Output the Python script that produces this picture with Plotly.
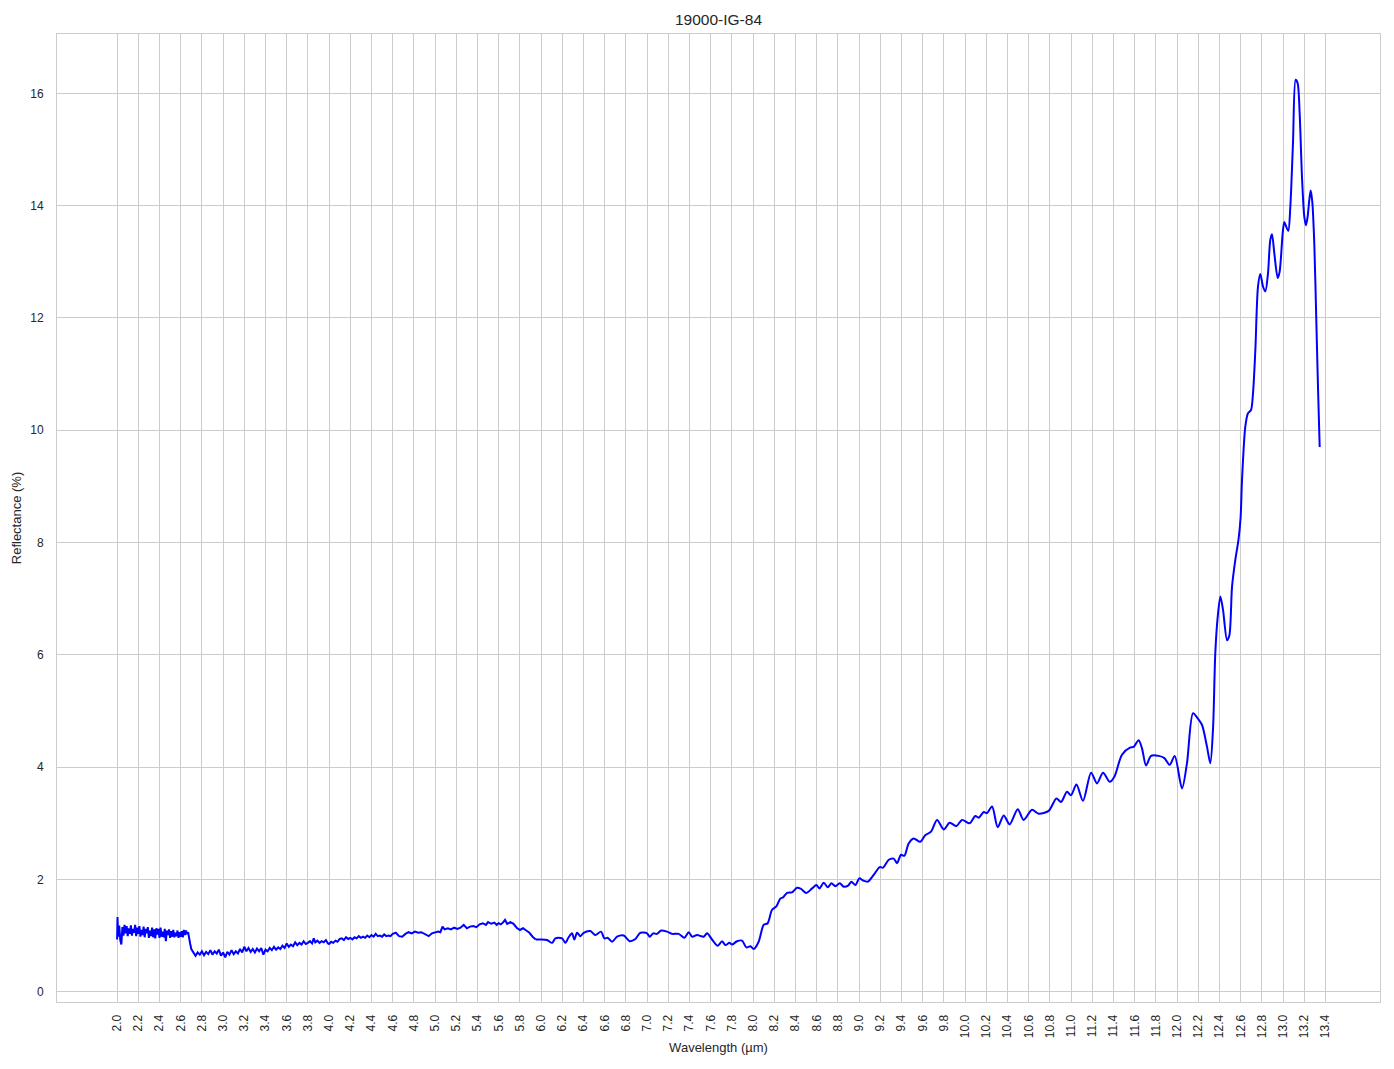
import plotly.graph_objects as go

TITLE = "19000-IG-84"
X_LABEL = "Wavelength (µm)"
Y_LABEL = "Reflectance (%)"

# Noisy part of the spectrum, wavelength in µm
WL_NOISY = [
    2.000, 2.004, 2.010, 2.020, 2.030, 2.040, 2.050, 2.060, 2.070, 2.080, 2.090,
    2.100, 2.110, 2.120, 2.130, 2.140, 2.150, 2.160, 2.170, 2.180, 2.190,
    2.200, 2.210, 2.220, 2.230, 2.240, 2.250, 2.260, 2.270, 2.280, 2.290,
    2.300, 2.310, 2.320, 2.330, 2.340, 2.350, 2.360, 2.370, 2.380, 2.390,
    2.400, 2.410, 2.420, 2.430, 2.440, 2.450, 2.460, 2.470, 2.480, 2.490,
    2.500, 2.510, 2.520, 2.530, 2.540, 2.550, 2.560, 2.570, 2.580, 2.590,
    2.600, 2.610, 2.620, 2.630, 2.640, 2.650, 2.660, 2.670,
    2.680, 2.690, 2.700, 2.720, 2.740, 2.760, 2.780, 2.800, 2.820, 2.840,
    2.860, 2.880, 2.900, 2.920, 2.940, 2.960, 2.980, 3.000, 3.020, 3.040,
    3.060, 3.080, 3.100, 3.120, 3.140, 3.160, 3.180, 3.200, 3.220, 3.240,
    3.260, 3.280, 3.300, 3.320, 3.340, 3.360, 3.380, 3.400, 3.420, 3.440,
    3.460, 3.480, 3.500, 3.520, 3.540, 3.560, 3.580, 3.600, 3.620, 3.640,
    3.660, 3.680, 3.700, 3.720, 3.740, 3.760, 3.780,
    3.800, 3.820, 3.840, 3.855, 3.870, 3.890, 3.910, 3.930, 3.950, 3.970,
    3.990, 4.000, 4.020, 4.040, 4.060, 4.080, 4.100, 4.120, 4.140, 4.160,
    4.180, 4.200, 4.220, 4.240, 4.260, 4.280, 4.300, 4.320, 4.340, 4.360,
    4.380, 4.400, 4.420, 4.440, 4.460, 4.480, 4.500, 4.520, 4.540, 4.560,
    4.580, 4.600, 4.630, 4.660, 4.690, 4.720, 4.750, 4.780, 4.810, 4.840,
    4.870, 4.900, 4.940, 4.970, 5.000, 5.030, 5.050, 5.070, 5.090, 5.120,
    5.150, 5.180, 5.210, 5.240, 5.270, 5.300, 5.330, 5.360, 5.390, 5.420,
    5.450, 5.480, 5.500, 5.530, 5.560, 5.580, 5.600, 5.620, 5.640, 5.660,
    5.680, 5.710, 5.740, 5.770, 5.800, 5.830, 5.860, 5.890, 5.920, 5.950,
]
REFL_NOISY = [
    0.93, 1.33, 0.98, 1.18, 0.92, 0.84, 1.15, 1.00, 1.19, 1.04, 1.17,
    0.99, 1.13, 1.03, 1.18, 1.00, 1.12, 1.05, 1.19, 0.99, 1.14,
    1.03, 1.17, 0.98, 1.10, 1.01, 1.16, 0.97, 1.12, 1.04, 1.15,
    0.96, 1.09, 0.99, 1.14, 0.97, 1.11, 0.95, 1.13, 1.02, 1.12,
    0.96, 1.14, 0.98, 1.07, 0.97, 1.12, 0.90, 1.09, 1.01, 1.11,
    0.96, 1.08, 0.98, 1.10, 0.97, 1.05, 0.99, 1.09, 0.96, 1.06,
    0.98, 1.08, 0.97, 1.10, 1.01, 1.09, 1.03, 1.06,
    0.98, 0.85, 0.76, 0.70, 0.64, 0.70, 0.66, 0.72, 0.65, 0.71,
    0.67, 0.74, 0.66, 0.72, 0.68, 0.75, 0.64, 0.70, 0.61, 0.71,
    0.66, 0.74, 0.67, 0.72, 0.68, 0.76, 0.70, 0.80, 0.72, 0.78,
    0.71, 0.76, 0.70, 0.77, 0.72, 0.78, 0.66, 0.75, 0.72, 0.78,
    0.74, 0.80, 0.75, 0.79, 0.76, 0.82, 0.78, 0.86, 0.80, 0.84,
    0.81, 0.88, 0.83, 0.87, 0.84, 0.90, 0.85,
    0.87, 0.90, 0.86, 0.95, 0.88, 0.91, 0.87, 0.90, 0.88, 0.92,
    0.86, 0.85, 0.89, 0.87, 0.91, 0.89, 0.94, 0.95, 0.92, 0.97,
    0.94, 0.96, 0.93, 0.97, 0.95, 0.99, 0.96, 0.98, 0.96, 1.00,
    0.97, 1.01, 0.98, 1.03, 0.99, 1.00, 0.98, 1.02, 0.99, 1.00,
    0.99, 1.03, 1.05, 0.99, 0.98, 1.03, 1.06, 1.04, 1.07, 1.05,
    1.06, 1.03, 0.99, 1.04, 1.05, 1.07, 1.06, 1.16, 1.11, 1.13,
    1.11, 1.14, 1.12, 1.14, 1.19, 1.13, 1.16, 1.17, 1.15, 1.20,
    1.22, 1.19, 1.24, 1.21, 1.23, 1.19, 1.22, 1.20, 1.23, 1.28,
    1.21, 1.24, 1.21, 1.14, 1.10, 1.13, 1.09, 1.05, 0.98, 0.93,
]

# Smoother part of the spectrum
WL_SMOOTH = [
    5.950, 5.993, 6.057, 6.104, 6.135, 6.198, 6.229, 6.260, 6.292, 6.314,
    6.340, 6.371, 6.402, 6.465, 6.512, 6.566, 6.597, 6.628, 6.670, 6.717,
    6.780, 6.836, 6.890, 6.937, 7.000, 7.025, 7.057, 7.094, 7.132, 7.189,
    7.236, 7.298, 7.352, 7.393, 7.425, 7.472, 7.534, 7.566, 7.613, 7.666,
    7.708, 7.739, 7.777, 7.802, 7.849, 7.896, 7.937, 7.975, 8.006, 8.053,
    8.100, 8.138, 8.179, 8.220, 8.258, 8.283, 8.321, 8.368, 8.415, 8.453,
    8.503, 8.557, 8.598, 8.626, 8.667, 8.705, 8.739, 8.777, 8.818, 8.856,
    8.897, 8.928, 8.966, 9.003, 9.038, 9.082, 9.138, 9.195, 9.226, 9.280,
    9.327, 9.358, 9.396, 9.427, 9.468, 9.515, 9.578, 9.626, 9.679, 9.736,
    9.799, 9.855, 9.918, 9.972, 10.044, 10.097, 10.129, 10.176, 10.207, 10.255,
    10.308, 10.365, 10.421, 10.497, 10.553, 10.632, 10.695, 10.789, 10.862, 10.906,
    10.962, 11.000, 11.051, 11.113, 11.189, 11.245, 11.302, 11.365, 11.409, 11.481,
    11.560, 11.591, 11.638, 11.670, 11.708, 11.755, 11.827, 11.881, 11.931, 11.978,
    12.047, 12.094, 12.151, 12.195, 12.236, 12.283, 12.314, 12.340, 12.361, 12.384,
    12.409, 12.434, 12.472, 12.494, 12.519, 12.550, 12.580, 12.600, 12.613, 12.644,
    12.669, 12.698, 12.717, 12.739, 12.764, 12.786, 12.811, 12.833, 12.858, 12.880,
    12.896, 12.918, 12.950, 12.968, 12.997, 13.012, 13.031, 13.050, 13.069, 13.094,
    13.119, 13.138, 13.157, 13.179, 13.201, 13.217, 13.232, 13.248, 13.261, 13.276,
    13.295, 13.314, 13.330, 13.346,
]
REFL_SMOOTH = [
    0.93, 0.93, 0.92, 0.87, 0.95, 0.95, 0.87, 0.97, 1.04, 0.93,
    1.05, 0.99, 1.05, 1.08, 1.01, 1.07, 0.95, 0.96, 0.89, 0.98,
    1.00, 0.90, 0.94, 1.05, 1.04, 0.98, 1.04, 1.03, 1.09, 1.07,
    1.03, 1.03, 0.96, 1.06, 0.98, 1.01, 0.98, 1.04, 0.93, 0.82,
    0.90, 0.83, 0.87, 0.84, 0.90, 0.91, 0.79, 0.81, 0.76, 0.89,
    1.19, 1.22, 1.46, 1.52, 1.66, 1.68, 1.76, 1.77, 1.85, 1.83,
    1.76, 1.84, 1.90, 1.84, 1.94, 1.86, 1.93, 1.88, 1.93, 1.87,
    1.89, 1.96, 1.90, 2.02, 1.98, 1.96, 2.08, 2.22, 2.21, 2.35,
    2.37, 2.29, 2.44, 2.42, 2.64, 2.73, 2.67, 2.79, 2.85, 3.06,
    2.89, 3.01, 2.95, 3.06, 3.00, 3.13, 3.10, 3.20, 3.18, 3.30,
    2.93, 3.14, 2.98, 3.25, 3.06, 3.24, 3.17, 3.22, 3.44, 3.38,
    3.56, 3.50, 3.69, 3.40, 3.90, 3.71, 3.90, 3.74, 3.83, 4.22,
    4.35, 4.36, 4.48, 4.33, 4.03, 4.20, 4.20, 4.16, 4.04, 4.20,
    3.62, 4.07, 4.96, 4.87, 4.75, 4.36, 4.07, 4.70, 6.03, 6.68,
    7.04, 6.80, 6.26, 6.35, 7.21, 7.69, 8.05, 8.45, 9.11, 10.06,
    10.30, 10.36, 10.66, 11.43, 12.56, 12.78, 12.56, 12.47, 12.79, 13.39,
    13.49, 13.15, 12.71, 12.82, 13.51, 13.71, 13.62, 13.55, 13.98, 15.11,
    16.24, 16.18, 15.64, 14.51, 13.80, 13.65, 13.80, 14.10, 14.27, 14.07,
    13.33, 11.96, 10.77, 9.70,
]

X_TICKS = [round(2.0 + 0.2 * i, 1) for i in range(58)]
X_TICK_TEXT = [f"{v:.1f}" for v in X_TICKS]
Y_TICKS = [0, 2, 4, 6, 8, 10, 12, 14, 16]

FONT = "Liberation Sans, Arial, DejaVu Sans, sans-serif"
LINE_COLOR = "#0000ff"
GRID = "#cccccc"

# The page body adds an 8px offset; the figure is sized to compensate.
FIG_W, FIG_H = 1386, 1061

fig = go.Figure()
fig.add_trace(go.Scatter(x=WL_NOISY, y=REFL_NOISY, mode="lines",
                         line=dict(color=LINE_COLOR, width=2), showlegend=False))
fig.add_trace(go.Scatter(x=WL_SMOOTH, y=REFL_SMOOTH, mode="lines",
                         line=dict(color=LINE_COLOR, width=2, shape="spline", smoothing=0.8),
                         showlegend=False))

fig.update_layout(
    width=FIG_W, height=FIG_H,
    margin=dict(l=49, r=14, t=26, b=67, autoexpand=False),
    paper_bgcolor="white", plot_bgcolor="white",
    font=dict(family=FONT, color="#262626", size=12),
    title=dict(text=TITLE, x=0.5, xref="paper", y=1 - 12 / FIG_H, yref="container",
               yanchor="middle", xanchor="center", font=dict(size=15.5, color="#262626")),
)
fig.update_xaxes(
    range=[1.433, 13.915], tickmode="array", tickvals=X_TICKS, ticktext=X_TICK_TEXT,
    tickangle=-90, showgrid=True, gridcolor=GRID, gridwidth=1, zeroline=False,
    showline=True, mirror=True, linecolor=GRID, linewidth=1, ticks="",
    tickfont=dict(size=12, color="#262626"), ticklabelstandoff=7,
    title=dict(text=X_LABEL, font=dict(size=13, color="#262626"), standoff=5),
)
fig.update_yaxes(
    range=[-0.183, 17.056], tickmode="array", tickvals=Y_TICKS,
    ticktext=[str(v) for v in Y_TICKS],
    showgrid=True, gridcolor=GRID, gridwidth=1, zeroline=False,
    showline=True, mirror=True, linecolor=GRID, linewidth=1, ticks="",
    tickfont=dict(size=12, color="#262626"), ticklabelstandoff=10,
    title=dict(text=Y_LABEL, font=dict(size=13, color="#262626"), standoff=5),
)

fig.write_html("out.html")
